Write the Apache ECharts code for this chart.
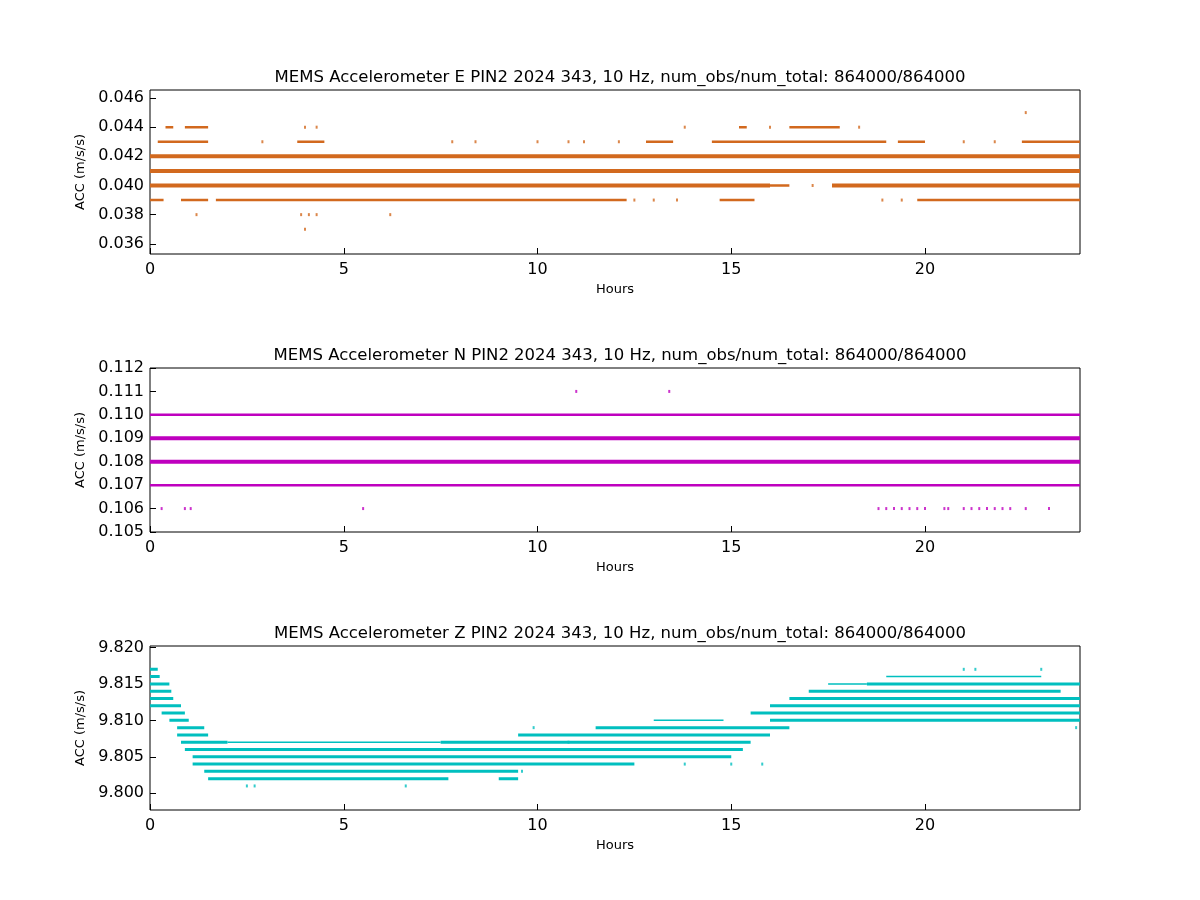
<!DOCTYPE html>
<html><head><meta charset="utf-8">
<script src="https://cdn.jsdelivr.net/npm/echarts@6/dist/echarts.min.js"></script>
<style>html,body{margin:0;background:#fff}#c{width:1200px;height:900px}</style>
</head><body><div id="c"></div>
<script>
const titles = [
 'MEMS Accelerometer E PIN2 2024 343, 10 Hz, num_obs/num_total: 864000/864000',
 'MEMS Accelerometer N PIN2 2024 343, 10 Hz, num_obs/num_total: 864000/864000',
 'MEMS Accelerometer Z PIN2 2024 343, 10 Hz, num_obs/num_total: 864000/864000'];
const xTicks = [0,5,10,15,20];
const eTicks = [0.036,0.038,0.040,0.042,0.044,0.046];
const nTicks = [0.105,0.106,0.107,0.108,0.109,0.110,0.111,0.112];
const zTicks = [9.800,9.805,9.810,9.815,9.820];
// segments: [level, startHour, endHour]
const eThick = [[0.041,0,24],[0.042,0,24],[0.040,0,16.0],[0.040,17.6,24]];
const eThin = [[0.040,16.0,16.5],[0.039,0,0.35],[0.039,0.8,1.5],[0.039,1.7,12.3],[0.039,14.7,15.6],[0.039,19.8,24],
 [0.043,0.2,1.5],[0.043,3.8,4.5],[0.043,12.8,13.5],[0.043,14.5,19.0],[0.043,19.3,20.0],[0.043,22.5,24],
 [0.044,0.4,0.6],[0.044,0.9,1.5],[0.044,16.5,17.8],[0.044,15.2,15.4]];
const eDots = [[1.2,0.038],[3.9,0.038],[4.1,0.038],[4.3,0.038],[6.2,0.038],[4.0,0.037],[22.6,0.045],[2.9,0.043],[7.8,0.043],[8.4,0.043],
 [10.0,0.043],[10.8,0.043],[11.2,0.043],[12.1,0.043],[13.8,0.044],[4.3,0.044],[4.0,0.044],[16.0,0.044],[18.3,0.044],[21.0,0.043],[21.8,0.043],
 [12.5,0.039],[13.0,0.039],[13.6,0.039],[18.9,0.039],[19.4,0.039],[15.7,0.040],[17.1,0.040],[0.2,0.040]];
const nThick = [[0.109,0,24],[0.108,0,24]];
const nThin = [[0.110,0,24],[0.107,0,24]];
const nDots = [[0.3,0.106],[0.9,0.106],[1.05,0.106],[5.5,0.106],[11.0,0.111],[13.4,0.111],
 [18.8,0.106],[19.0,0.106],[19.2,0.106],[19.4,0.106],[19.6,0.106],[19.8,0.106],[20.0,0.106],[20.5,0.106],[20.6,0.106],[21.0,0.106],
 [21.2,0.106],[21.4,0.106],[21.6,0.106],[21.8,0.106],[22.0,0.106],[22.2,0.106],[22.6,0.106],[23.2,0.106]];
const zSegs = [[9.817,0,0.2],[9.816,0,0.25],[9.815,0,0.5],[9.814,0,0.55],[9.813,0,0.6],[9.812,0,0.8],[9.811,0.3,0.9],
 [9.810,0.5,1.0],[9.809,0.7,1.4],[9.808,0.7,1.5],[9.807,0.8,2.0],[9.807,7.5,15.5],[9.806,0.9,15.3],[9.805,1.1,15.0],
 [9.804,1.1,12.5],[9.803,1.4,9.5],[9.802,1.5,7.7],[9.802,9.0,9.5],[9.809,11.5,16.5],[9.808,9.5,16.0],
 [9.810,16.0,24],[9.811,15.5,24],[9.812,16.0,24],[9.813,16.5,24],[9.814,17.0,23.5],[9.815,18.5,24]];
const zThin = [[9.807,2.0,7.5],[9.810,13.0,14.8],[9.816,19.0,23.0],[9.815,17.5,18.5]];
const zDots = [[2.5,9.801],[2.7,9.801],[6.6,9.801],[21.0,9.817],[21.3,9.817],[23.0,9.817],[15.0,9.804],[13.8,9.804],
 [9.6,9.803],[10.8,9.807],[9.9,9.809],[15.8,9.804],[23.9,9.809]];

function segData(segs){const d=[];segs.forEach(s=>{d.push([s[1],s[0]],[s[2],s[0]],[s[2],null]);});return d;}
const color=['#d2691e','#bf00bf','#00bfbf'];
const tops=[90,368,646], h=164;
const yr=[[0.0353,0.04655,eTicks],[0.105,0.112,nTicks],[9.7977,9.8202,zTicks]];
const grids=[],xs=[],ys=[],series=[],tl=[];
const font='DejaVu Sans';
for(let i=0;i<3;i++){
 grids.push({left:150,width:930,top:tops[i],height:h,show:true,borderColor:'#000',borderWidth:1});
 tl.push({text:titles[i],left:615,textAlign:'center',top:tops[i]-26,textStyle:{fontFamily:font,fontSize:16.5,fontWeight:'normal',color:'#000'}});
 xs.push({gridIndex:i,type:'value',min:0,max:24,name:'Hours',nameLocation:'middle',nameGap:29,
  nameTextStyle:{fontFamily:font,fontSize:13,color:'#000'},
  axisLine:{show:false},axisTick:{inside:true,length:6,customValues:xTicks,lineStyle:{color:'#000'}},splitLine:{show:false},
  axisLabel:{customValues:xTicks,fontFamily:font,fontSize:16,color:'#000',margin:8}});
 ys.push({gridIndex:i,type:'value',min:yr[i][0],max:yr[i][1],name:'ACC (m/s/s)',nameLocation:'middle',nameGap:60,
  nameTextStyle:{fontFamily:font,fontSize:13,color:'#000'},
  axisLine:{show:false},splitLine:{show:false},
  axisTick:{inside:true,length:6,customValues:yr[i][2],lineStyle:{color:'#000'}},
  axisLabel:{customValues:yr[i][2],fontFamily:font,fontSize:16,color:'#000',margin:6,
   formatter:v=>v.toFixed(3)}});
}
function line(i,segs,w){series.push({type:'line',xAxisIndex:i,yAxisIndex:i,data:segData(segs),showSymbol:false,connectNulls:false,
 lineStyle:{color:color[i],width:w},animation:false,silent:true});}
function dots(i,d){series.push({type:'scatter',xAxisIndex:i,yAxisIndex:i,data:d,symbol:'rect',symbolSize:[2,3],
 itemStyle:{color:color[i]},animation:false,silent:true});}
line(0,eThick,4);line(0,eThin,2.5);dots(0,eDots);
line(1,nThick,4);line(1,nThin,2.5);dots(1,nDots);
line(2,zSegs,3);line(2,zThin,1.5);dots(2,zDots);
const ch=echarts.init(document.getElementById('c'));
ch.setOption({backgroundColor:'#fff',title:tl,grid:grids,xAxis:xs,yAxis:ys,series:series,animation:false});
</script></body></html>
